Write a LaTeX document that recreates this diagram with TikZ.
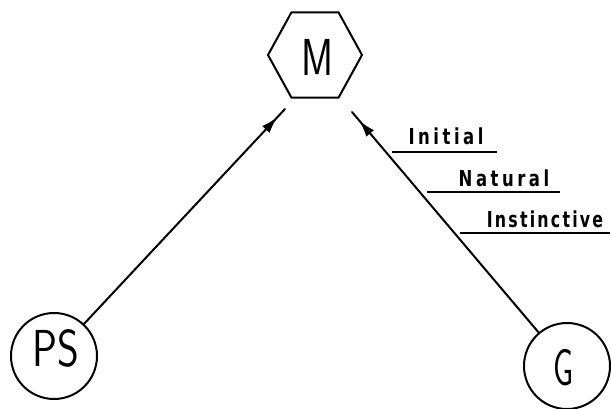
\documentclass[tikz,border=0pt]{standalone}
\usepackage{fontspec}
\usepackage{graphicx}
\usetikzlibrary{shapes.geometric,arrows.meta,decorations.markings}
\newfontfamily\tagfont[FakeStretch=0.75,LetterSpace=16]{DejaVu Sans Bold}
\newfontfamily\tighttagfont[FakeStretch=0.72,LetterSpace=10]{DejaVu Sans Bold}
\tikzset{
  ink/.style={line width=2pt, line cap=round, line join=round},
  roundbox/.style={ink, draw, circle, minimum size=86pt, inner sep=0pt},
  hexbox/.style={ink, draw, regular polygon, regular polygon sides=6,
    minimum size=94pt, inner sep=0pt, yscale=1.05},
  bigtext/.style={font=\fontsize{52}{52}\sffamily},
  tagtext/.style={font=\fontsize{22}{22}\tagfont, anchor=base, inner sep=0pt},
  feed/.style={ink, decoration={markings,
      mark=at position -11pt with {\arrow{Latex[length=17pt,width=10pt]}}},
      postaction=decorate},
  rule/.style={line width=2.2pt}
}
\begin{document}
\begin{tikzpicture}[x=1pt,y=-1pt]
  \useasboundingbox (0,0) rectangle (611,409);

  % nodes
  \node[hexbox] (m) at (315,55) {};
  \node[bigtext] (mtxt) at (317,57) {\scalebox{0.75}[1]{M}};
  \node[roundbox] (ps) at (54,356) {};
  \node[bigtext] (pstxt) at (56,348) {\scalebox{0.8}[1]{PS}};
  \node[roundbox] (g) at (567,366) {};
  \node[bigtext] (gtxt) at (564,368) {\scalebox{0.62}[1]{G}};

  % arrow ends just below the hexagon
  \coordinate (tipl) at (285,109);
  \coordinate (tipr) at (352,112);

  \draw[feed] (ps) -- (tipl);
  \draw[feed] (g) -- (tipr);

  % labels beside the right-hand arrow
  \node[tagtext] (initial) at (446,145) {Initial};
  \node[tagtext] (natural) at (504,187) {Natural};
  \node[tagtext, font=\fontsize{22}{22}\tighttagfont] (instinct) at (545,228) {Instinctive};

  \coordinate (u1a) at (392,152); \coordinate (u1b) at (497,152);
  \coordinate (u2a) at (427,192); \coordinate (u2b) at (560,192);
  \coordinate (u3a) at (460,233); \coordinate (u3b) at (610,233);
  \draw[rule] (u1a) -- (u1b);
  \draw[rule] (u2a) -- (u2b);
  \draw[rule] (u3a) -- (u3b);
\end{tikzpicture}
\end{document}
